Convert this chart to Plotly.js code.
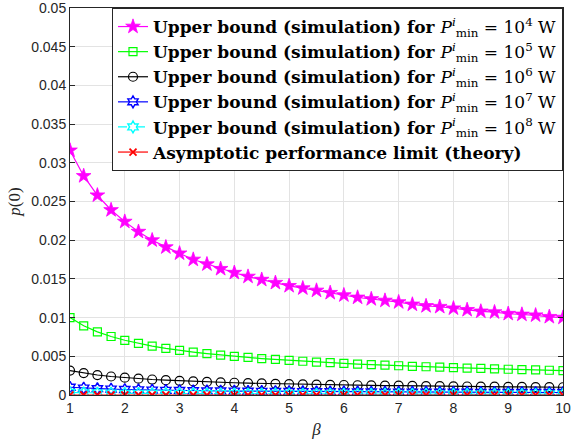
<!DOCTYPE html>
<html><head><meta charset="utf-8">
<script src="https://cdn.plot.ly/plotly-3.0.1.min.js"></script>
<style>body{margin:0;padding:0;background:#fff}#chart{width:572px;height:442px}</style>
</head><body><div id="chart"></div>
<script>
const beta = [1,1.25,1.5,1.75,2,2.25,2.5,2.75,3,3.25,3.5,3.75,4,4.25,4.5,4.75,5,5.25,5.5,5.75,6,6.25,6.5,6.75,7,7.25,7.5,7.75,8,8.25,8.5,8.75,9,9.25,9.5,9.75,10];
const p1e4 = [0.0316,0.0283,0.0258,0.0239,0.0224,0.0211,0.0200,0.0191,0.0183,0.0175,0.0169,0.0163,0.0158,0.0153,0.0149,0.0145,0.0141,0.0138,0.0135,0.0132,0.0129,0.0126,0.0124,0.0122,0.0120,0.0117,0.0115,0.0114,0.0112,0.0110,0.0108,0.0107,0.0105,0.0104,0.0103,0.0101,0.0100];
const p1e5 = [0.0100,0.00894,0.00816,0.00756,0.00707,0.00667,0.00632,0.00603,0.00577,0.00555,0.00535,0.00516,0.00500,0.00485,0.00471,0.00459,0.00447,0.00436,0.00426,0.00417,0.00408,0.00400,0.00392,0.00385,0.00378,0.00371,0.00365,0.00359,0.00354,0.00348,0.00343,0.00338,0.00333,0.00329,0.00324,0.00320,0.00316];
const p1e6 = [0.00316,0.00283,0.00258,0.00239,0.00224,0.00211,0.00200,0.00191,0.00183,0.00175,0.00169,0.00163,0.00158,0.00153,0.00149,0.00145,0.00141,0.00138,0.00135,0.00132,0.00129,0.00126,0.00124,0.00122,0.00120,0.00117,0.00115,0.00114,0.00112,0.00110,0.00108,0.00107,0.00105,0.00104,0.00103,0.00101,0.00100];
const p1e7 = [0.00100,0.00089,0.00082,0.00076,0.00071,0.00067,0.00063,0.00060,0.00058,0.00055,0.00053,0.00052,0.00050,0.00049,0.00047,0.00046,0.00045,0.00044,0.00043,0.00042,0.00041,0.00040,0.00039,0.00038,0.00038,0.00037,0.00037,0.00036,0.00035,0.00035,0.00034,0.00034,0.00033,0.00033,0.00032,0.00032,0.00032];
const p1e8 = [0.00032,0.00028,0.00026,0.00024,0.00022,0.00021,0.00020,0.00019,0.00018,0.00018,0.00017,0.00016,0.00016,0.00015,0.00015,0.00015,0.00014,0.00014,0.00013,0.00013,0.00013,0.00013,0.00012,0.00012,0.00012,0.00012,0.00012,0.00011,0.00011,0.00011,0.00011,0.00011,0.00011,0.00010,0.00010,0.00010,0.00010];
const theory = [0,0,0,0,0,0,0,0,0,0,0,0,0,0,0,0,0,0,0,0,0,0,0,0,0,0,0,0,0,0,0,0,0,0,0,0,0];
const exps = ['4','5','6','7','8'];
const xTicks = [1,2,3,4,5,6,7,8,9,10];
const yTicks = [0,0.005,0.01,0.015,0.02,0.025,0.03,0.035,0.04,0.045,0.05];
const yTickText = ['0','0.005','0.01','0.015','0.02','0.025','0.03','0.035','0.04','0.045','0.05'];

function nm(e){return '<b>Upper bound (simulation) for </b><i>P</i><sup><i>i</i></sup><sub>min</sub> = 10<sup>'+e+'</sup> W';}

const traces = [
 {x:beta,y:p1e4,name:nm(exps[0]),mode:'lines+markers',line:{color:'#ff00ff',width:1.2},marker:{symbol:'star',size:11,color:'#ff00ff',line:{color:'#ff00ff',width:0.8}}},
 {x:beta,y:p1e5,name:nm(exps[1]),mode:'lines+markers',line:{color:'#00ff00',width:1.2},marker:{symbol:'square-open',size:8,color:'#00ff00',line:{width:1.2}}},
 {x:beta,y:p1e6,name:nm(exps[2]),mode:'lines+markers',line:{color:'#000000',width:1.2},marker:{symbol:'circle-open',size:9,color:'#000000',line:{width:1.2}}},
 {x:beta,y:p1e7,name:nm(exps[3]),mode:'lines+markers',line:{color:'#0000ff',width:1.2},marker:{symbol:'hexagram-open',size:9,color:'#0000ff',line:{width:1.4}}},
 {x:beta,y:p1e8,name:nm(exps[4]),mode:'lines+markers',line:{color:'#00ffff',width:1.2,dash:'dash'},marker:{symbol:'hexagram-open',size:9,color:'#00ffff',line:{width:1.4}}},
 {x:beta,y:theory,name:'<b>Asymptotic performance limit (theory)</b>',mode:'lines+markers',line:{color:'#ff0000',width:1.2},marker:{symbol:'x-thin-open',size:7,color:'#ff0000',line:{width:1.8,color:'#ff0000'}}}
];

const layout = {
 width:572,height:442,
 margin:{l:70,r:9,t:8,b:47},
 paper_bgcolor:'#fff',plot_bgcolor:'#fff',
 font:{family:'Liberation Sans, Arial, sans-serif',size:13,color:'#262626'},
 showlegend:true,
 legend:{x:1,y:1,xanchor:'right',yanchor:'top',bgcolor:'#fff',bordercolor:'#262626',borderwidth:1,
   font:{family:'DejaVu Serif, serif',size:17,color:'#000'},tracegroupgap:0,itemwidth:30},
 xaxis:{range:[1,10],tickvals:xTicks,ticks:'inside',ticklen:5,tickcolor:'#262626',showline:true,linecolor:'#262626',linewidth:1,mirror:'ticks',
   showgrid:true,gridcolor:'#e3e3e3',zeroline:false,tickfont:{size:14},ticklabeloverflow:'allow',
   title:{text:'<i>β</i>',font:{family:'Liberation Serif, serif',size:17,color:'#262626'},standoff:8}},
 yaxis:{range:[0,0.05],tickvals:yTicks,ticktext:yTickText,ticks:'inside',ticklen:5,tickcolor:'#262626',showline:true,linecolor:'#262626',linewidth:1,mirror:'ticks',
   showgrid:true,gridcolor:'#e3e3e3',zeroline:false,tickfont:{size:14},ticklabeloverflow:'allow',
   title:{text:'<i>p</i>(0)',font:{family:'Liberation Serif, serif',size:17,color:'#262626'},standoff:6}}
};
Plotly.newPlot('chart',traces,layout,{displayModeBar:false,staticPlot:true});
</script></body></html>
